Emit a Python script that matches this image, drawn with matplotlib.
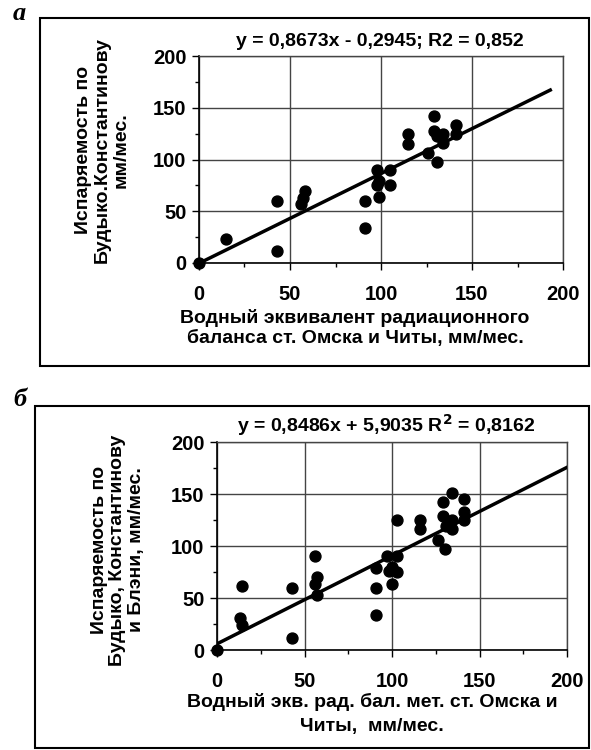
import matplotlib
matplotlib.use('Agg')
import numpy as np
import matplotlib.pyplot as plt
from matplotlib.patches import Rectangle
from matplotlib.ticker import MultipleLocator

# panel a data
xa = [0, 14.6, 43, 43, 58, 57, 56, 91, 91, 98, 98, 99, 99, 105, 105, 115, 115,
      129, 129, 131, 134, 134, 141, 141, 126, 131]
ya = [0, 23, 60, 12, 70, 63, 57, 60, 34, 90, 75, 79, 64, 90, 75, 125, 115,
      142, 128, 123, 125, 116, 133, 125, 106, 98]
slope_a, icpt_a, xmax_a = 0.8673, -0.2945, 193

# panel b data
xb = [0, 14, 13, 14, 43, 43, 56, 57, 56, 57, 91, 91, 91, 97, 98, 100, 100,
      103, 103, 103, 116, 116, 129, 134, 141, 141, 141, 129, 134, 131, 134, 126, 130]
yb = [0, 62, 31, 24, 60, 12, 90, 70, 63, 53, 79, 60, 34, 90, 76, 80, 63,
      125, 90, 75, 125, 116, 142, 151, 145, 133, 125, 129, 125, 119, 116, 106, 97]
slope_b, icpt_b, xmax_b = 0.8486, 5.9035, 200

W, H = 591, 750
plt.rcParams['font.family'] = ['Liberation Sans', 'DejaVu Sans']
plt.rcParams['font.weight'] = 'bold'
fig = plt.figure(figsize=(W / 100, H / 100), dpi=100)
FS = 14


def box(l, t, r, b):
    return [l / W, 1 - b / H, (r - l) / W, (b - t) / H]


def panel(rect, xs, ys, k, c, xmax):
    ax = fig.add_axes(rect)
    ax.set_xlim(0, 200)
    ax.set_ylim(0, 200)
    ax.xaxis.set_major_locator(MultipleLocator(50))
    ax.yaxis.set_major_locator(MultipleLocator(50))
    ax.xaxis.set_minor_locator(MultipleLocator(25))
    ax.yaxis.set_minor_locator(MultipleLocator(25))
    ax.grid(True, which='major', color='#444444', lw=1.0)
    ax.tick_params(which='major', length=5, width=1, direction='out', labelsize=14.5, pad=4)
    ax.tick_params(axis='x', which='major', pad=11)
    ax.tick_params(which='minor', length=3, width=1, direction='out')
    for s in ['left', 'bottom']:
        ax.spines[s].set_color('black')
        ax.spines[s].set_linewidth(1.2)
    for s in ['top', 'right']:
        ax.spines[s].set_color('#444444')
        ax.spines[s].set_linewidth(1.0)
    xl = np.array([0, xmax])
    ax.plot(xl, k * xl + c, color='black', lw=2.5, zorder=3)
    ax.scatter(xs, ys, s=62, color='black', zorder=4, clip_on=False)
    return ax


panel(box(199, 56, 563, 263), xa, ya, slope_a, icpt_a, xmax_a)
panel(box(217, 442, 567, 650), xb, yb, slope_b, icpt_b, xmax_b)

# frames around panels
fig.patches.append(Rectangle((40 / W, 1 - 366 / H), 549 / W, 348 / H, transform=fig.transFigure,
                             fill=False, ec='black', lw=1.5))
fig.patches.append(Rectangle((35 / W, 1 - 748 / H), 554 / W, 342 / H, transform=fig.transFigure,
                             fill=False, ec='black', lw=1.5))

# panel letters
fig.text(13 / W, 1 - 14 / H, 'а', family='Liberation Serif', style='italic', weight='bold',
         fontsize=19, ha='left', va='center')
fig.text(13 / W, 1 - 400 / H, 'б', family='Liberation Serif', style='italic', weight='bold',
         fontsize=19, ha='left', va='center')

# equations
fig.text(380 / W, 1 - 42 / H, 'y = 0,8673x - 0,2945; R2 = 0,852', fontsize=FS,
         ha='center', va='center')
fig.text(386 / W, 1 - 425 / H, 'y = 0,8486x + 5,9035 R$^\\mathbf{2}$ = 0,8162', fontsize=FS,
         ha='center', va='center')

# axis labels
fig.text(102 / W, 1 - 150 / H, 'Испаряемость по\nБудыко.Константинову\nмм/мес.', fontsize=FS,
         rotation=90, ha='center', va='center', multialignment='center', linespacing=1.15)
fig.text(118 / W, 1 - 550 / H, 'Испаряемость по\nБудыко, Константинову\nи Блэни, мм/мес.',
         fontsize=FS, rotation=90, ha='center', va='center', multialignment='center',
         linespacing=1.15)
fig.text(355 / W, 1 - 328 / H, 'Водный эквивалент радиационного\nбаланса ст. Омска и Читы, мм/мес.',
         fontsize=FS, ha='center', va='center', multialignment='center', linespacing=1.25)
fig.text(372 / W, 1 - 714 / H, 'Водный экв. рад. бал. мет. ст. Омска и\nЧиты,  мм/мес.',
         fontsize=FS, ha='center', va='center', multialignment='center', linespacing=1.5)

fig.savefig('out.png', dpi=100, facecolor='white')
